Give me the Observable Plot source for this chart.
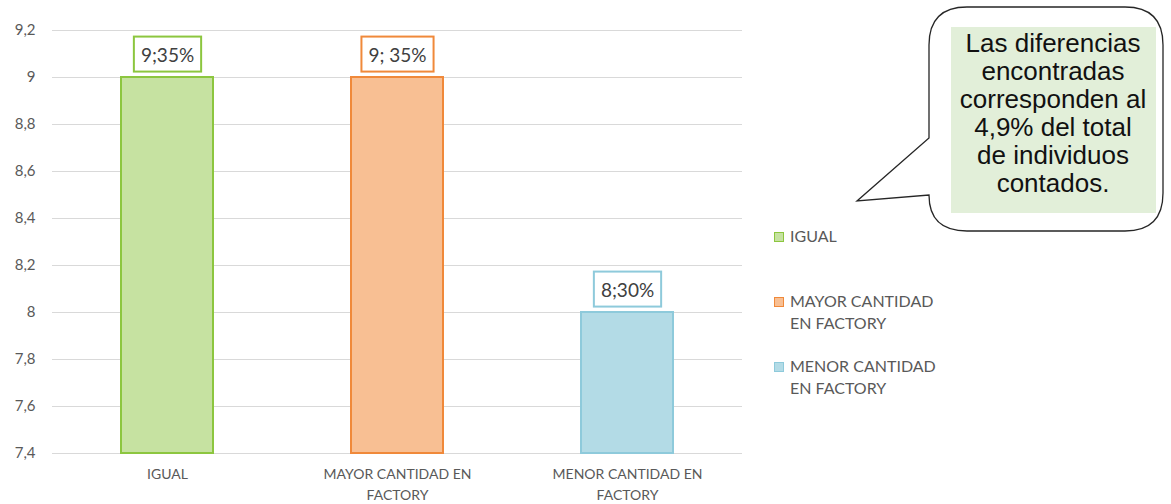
<!DOCTYPE html>
<html>
<head>
<meta charset="utf-8">
<script src="https://cdn.jsdelivr.net/npm/d3@7"></script>
<script src="https://cdn.jsdelivr.net/npm/@observablehq/plot@0.6"></script>
<style>
  html, body { margin: 0; padding: 0; background: #fff; }
  #wrap { position: relative; width: 1171px; height: 504px; overflow: hidden; }
  #chart { position: absolute; left: 0; top: 0; }
  #legend { position: absolute; left: 774px; top: 0; font-family: Lato, "Open Sans", sans-serif; font-size: 16px; color: #595959; }
  .li { position: absolute; left: 0; white-space: nowrap; line-height: 22px; }
  .sw { position: absolute; left: 0; top: 7px; width: 8px; height: 8px; border: 1px solid; }
  .lt { position: absolute; left: 16px; top: 0; }
  #callout { position: absolute; left: 0; top: 0; }
</style>
</head>
<body>
<div id="wrap">
  <div id="chart"></div>
  <div id="legend"></div>
  <svg id="callout" width="1171" height="504"></svg>
</div>
<script>
// ---- data ----
const categories = ["IGUAL", "MAYOR CANTIDAD EN FACTORY", "MENOR CANTIDAD EN FACTORY"];
const values = [9, 9, 8];
const valueLabels = ["9;35%", "9; 35%", "8;30%"];
const axisLabels = ["IGUAL", "MAYOR CANTIDAD EN\nFACTORY", "MENOR CANTIDAD EN\nFACTORY"];
const legendLabels = ["IGUAL", "MAYOR CANTIDAD\nEN FACTORY", "MENOR CANTIDAD\nEN FACTORY"];
const yTicks = [7.4, 7.6, 7.8, 8, 8.2, 8.4, 8.6, 8.8, 9, 9.2];
const calloutLines = ["Las diferencias", "encontradas", "corresponden al", "4,9% del total", "de individuos", "contados."];

// ---- styles ----
const fills = ["#c6e2a1", "#f8bf93", "#b3dbe6"];
const strokes = ["#8cc63f", "#f0893a", "#8ecadb"];

const data = categories.map((c, i) => ({category: c, value: values[i], label: valueLabels[i], idx: i}));
const fmt = d => String(d).replace(".", ",");

const chart = Plot.plot({
  width: 1171,
  height: 504,
  marginLeft: 52,
  marginRight: 429,
  marginTop: 30,
  marginBottom: 51,
  style: {fontFamily: "Lato, 'Open Sans', sans-serif", color: "#595959", background: "transparent"},
  x: {domain: categories, paddingInner: 0.6, paddingOuter: 0.3},
  y: {domain: [yTicks[0], yTicks[yTicks.length - 1]]},
  marks: [
    Plot.ruleY(yTicks, {stroke: "#d9d9d9", strokeWidth: 1}),
    Plot.barY(data, {
      x: "category", y1: () => yTicks[0], y2: "value",
      fill: d => fills[d.idx], stroke: d => strokes[d.idx], strokeWidth: 2
    }),
    Plot.axisY({ticks: yTicks, tickSize: 0, tickPadding: 17, tickFormat: fmt, fontSize: 15, label: null}),
    Plot.axisX({tickSize: 0, tickPadding: 11, fontSize: 14, lineHeight: 1.5, label: null,
      tickFormat: d => axisLabels[categories.indexOf(d)]}),
    Plot.text(data, {x: "category", y: "value", text: "label", dy: -22, fontSize: 19,
      fill: "#404040"})
  ]
});
document.getElementById("chart").appendChild(chart);

// boxes behind value labels, sized to the text
const lg = chart.querySelector('g[aria-label="text"]');
if (lg) {
  const texts = Array.from(lg.querySelectorAll("text"));
  texts.forEach((t, i) => {
    const b = t.getBBox();
    const r = document.createElementNS("http://www.w3.org/2000/svg", "rect");
    const padX = 7, padY = 6;
    r.setAttribute("x", b.x - padX);
    r.setAttribute("y", b.y - padY);
    r.setAttribute("width", b.width + 2 * padX);
    r.setAttribute("height", b.height + 2 * padY);
    r.setAttribute("fill", "#fff");
    r.setAttribute("stroke", strokes[i]);
    r.setAttribute("stroke-width", 2);
    const tr = t.getAttribute("transform");
    if (tr) r.setAttribute("transform", tr);
    t.parentNode.insertBefore(r, t);
  });
}

// legend
const legend = document.getElementById("legend");
const legendTops = [225, 290, 355];
legendLabels.forEach((lab, i) => {
  const item = document.createElement("div");
  item.className = "li";
  item.style.top = legendTops[i] + "px";
  const sw = document.createElement("div");
  sw.className = "sw";
  sw.style.background = fills[i];
  sw.style.borderColor = strokes[i];
  const tx = document.createElement("div");
  tx.className = "lt";
  tx.innerHTML = lab.split("\n").join("<br>");
  item.appendChild(sw); item.appendChild(tx);
  legend.appendChild(item);
});

// callout
const cs = d3.select("#callout");
cs.append("path")
  .attr("d", "M967,7 H1125 Q1163,7 1163,45 V193 Q1163,231 1125,231 H967 Q929,231 929,195 L857,201 L929,138 V45 Q929,7 967,7 Z")
  .attr("fill", "#fff").attr("stroke", "#262626").attr("stroke-width", 1.3);
cs.append("rect").attr("x", 951).attr("y", 27).attr("width", 205).attr("height", 186).attr("fill", "#e2efd9");
cs.append("g").selectAll("text").data(calloutLines).join("text")
  .attr("x", 1053).attr("y", (d, i) => 52 + i * 28)
  .attr("text-anchor", "middle")
  .attr("font-family", "'Liberation Sans', Arial, sans-serif")
  .attr("font-size", 26)
  .attr("fill", "#111")
  .text(d => d);
</script>
</body>
</html>
